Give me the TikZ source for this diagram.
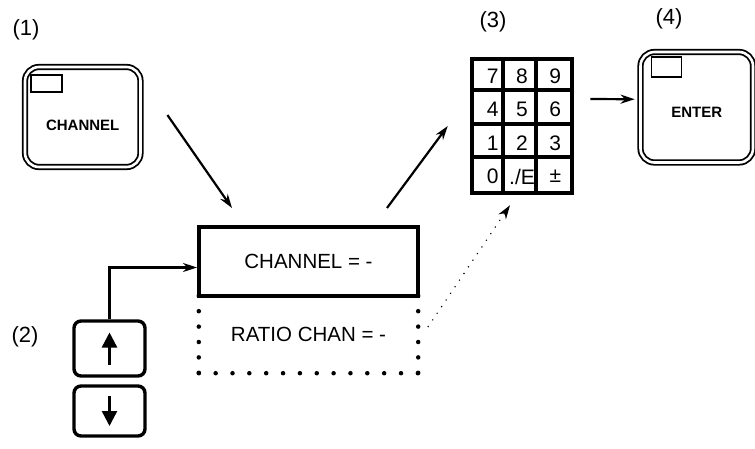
\documentclass[tikz,border=0pt]{standalone}
\usepackage{fontspec}
\setmainfont{Liberation Sans}
\usetikzlibrary{positioning,arrows.meta}

\begin{document}
\begin{tikzpicture}[x=1pt,y=-1pt,>={Stealth[length=14pt,width=9pt]},
  key/.style={draw,double,line width=1.8pt,double distance=2.6pt,rounded corners=14pt,inner sep=0pt},
  arrowkey/.style={draw,line width=3.4pt,rounded corners=7pt,minimum width=71pt,inner sep=0pt},
  keytxt/.style={font=\fontsize{15}{17}\selectfont\bfseries},
  disp/.style={font=\fontsize{20.5}{24}\selectfont},
  num/.style={font=\fontsize{21}{24}\selectfont},
  step label/.style={font=\fontsize{22}{24}\selectfont},
  conn/.style={->,line width=2.2pt},
  bigdots/.style={line width=4.5pt,line cap=round}]
\useasboundingbox (0,0) rectangle (755,448);

% step labels
\node[step label] (lab1) at (26,30) {(1)};
\node[step label] (lab2) at (25,337) {(2)};
\node[step label] (lab3) at (493,22) {(3)};
\node[step label] (lab4) at (669,19) {(4)};

% (1) CHANNEL key
\node[key,minimum width=115.5pt,minimum height=100pt] (chkey) at (82.75,117) {};
\draw[line width=1.6pt] ([shift={(7pt,-9pt)}]chkey.north west) rectangle +(31pt,-17pt);
\node[keytxt] (chtxt) at ([yshift=-8pt]chkey.center) {CHANNEL};

% display
\node[draw,line width=4pt,minimum width=219pt,minimum height=69pt,inner sep=0pt,disp] (chan) at (308.5,261.5) {CHANNEL = -};
\node[minimum width=219pt,minimum height=77pt,inner sep=0pt,disp] (ratio) at (308.5,334.5) {RATIO CHAN = -};
\draw[bigdots,dash pattern=on 0pt off 15.4pt] (ratio.north west) -- (ratio.south west);
\draw[bigdots,dash pattern=on 0pt off 15.4pt] (ratio.north east) -- (ratio.south east);
\draw[bigdots,dash pattern=on 0pt off 16.85pt] (ratio.south west) -- (ratio.south east);

% (2) arrow keys
\node[arrowkey,minimum height=55pt] (up) at (109.5,348.5) {};
\node[arrowkey,minimum height=50pt] (down) at (109.5,411) {};
\draw[-{Triangle[length=15pt,width=15pt]},line width=2.4pt] ([yshift=-16pt]up.center) -- ([yshift=16pt]up.center);
\draw[-{Triangle[length=15pt,width=15pt]},line width=2.4pt] ([yshift=15pt]down.center) -- ([yshift=-15pt]down.center);

% (3) keypad
\node[draw,line width=4.5pt,minimum width=100pt,minimum height=134pt,inner sep=0pt] (keypad) at (522,126) {};
\foreach \c in {1,2}
  \draw[line width=4pt] ([xshift=\c*33.33pt]keypad.north west) -- ([xshift=\c*33.33pt]keypad.south west);
\foreach \r in {1,2,3}
  \draw[line width=4pt] ([yshift=-\r*33.5pt]keypad.north west) -- ([yshift=-\r*33.5pt]keypad.north east);
\foreach \t [count=\i from 0] in {7,8,9,4,5,6,1,2,3,0,./E,±}{
  \pgfmathtruncatemacro{\col}{mod(\i,3)}
  \pgfmathtruncatemacro{\row}{\i/3}
  \pgfmathsetmacro{\dx}{\col==0 ? 4 : 0}
  \node[num,inner sep=0pt] (d\i) at (488.67+33.33*\col+\dx,76+33.5*\row) {\t};
}

% (4) ENTER key
\node[key,minimum width=112.5pt,minimum height=110.5pt] (enter) at (696.75,107.25) {};
\draw[line width=1.6pt] ([shift={(12pt,-6pt)}]enter.north west) rectangle +(30pt,-20pt);
\node[keytxt] (entxt) at ([yshift=-5pt]enter.center) {ENTER};

% connectors
\draw[conn] ([xshift=26pt,yshift=2pt]chkey.east) -- ([xshift=35pt,yshift=17pt]chan.north west);
\draw[conn] (up.north) |- ([yshift=-6pt]chan.west);
\draw[conn] ([xshift=-33pt,yshift=17pt]chan.north east) -- ([xshift=-22pt]keypad.west);
\draw[->,line width=1.6pt,dash pattern=on 0pt off 8pt,line cap=round] ([xshift=10pt,yshift=8pt]ratio.east) -- ([xshift=-12pt,yshift=-10pt]keypad.south);
\draw[conn] ([xshift=16pt,yshift=27pt]keypad.east) -- ([xshift=-5pt,yshift=8pt]enter.west);
\end{tikzpicture}
\end{document}
